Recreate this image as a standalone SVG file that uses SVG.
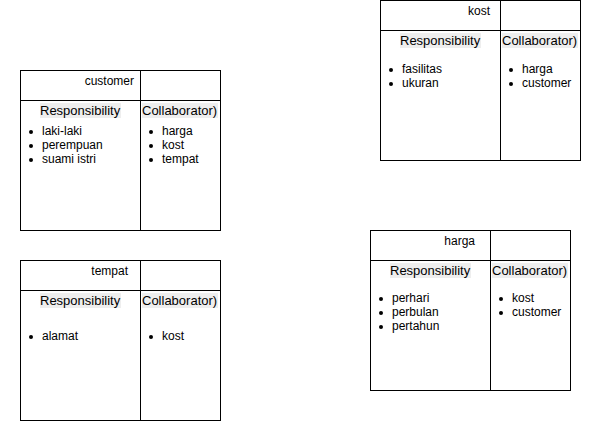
<svg xmlns="http://www.w3.org/2000/svg" width="591" height="421" viewBox="0 0 591 421">
<style>
.box{fill:#ffffff;stroke:#000000;stroke-width:1}
.ln{stroke:#000000;stroke-width:1;fill:none}
.hd{font-family:"Liberation Sans",Arial,sans-serif;font-size:12px;fill:#000;text-anchor:end}
.sec{font-family:"Liberation Sans",Arial,sans-serif;font-size:13px;fill:#000}
.it{font-family:"Liberation Sans",Arial,sans-serif;font-size:12px;fill:#000}
.hl{fill:#eeeeee}
.dot{fill:#000}
</style>
<rect width="591" height="421" fill="#ffffff"/>
<g id="connectors"></g>
<g id="customer">
<rect class="box" x="20.5" y="70.5" width="200" height="160"/>
<line class="ln" x1="20.5" y1="100.5" x2="220.5" y2="100.5"/>
<line class="ln" x1="140.5" y1="70.5" x2="140.5" y2="230.5"/>
<text class="hd" x="134" y="85">customer</text>
<rect class="hl" x="40" y="103" width="81" height="15"/>
<text class="sec" x="40" y="115">Responsibility</text>
<rect class="hl" x="142" y="103" width="76" height="15"/>
<text class="sec" x="142" y="115">Collaborator)</text>
<circle class="dot" cx="31" cy="132" r="2"/><text class="it" x="42" y="135">laki-laki</text>
<circle class="dot" cx="31" cy="146" r="2"/><text class="it" x="42" y="149">perempuan</text>
<circle class="dot" cx="31" cy="160" r="2"/><text class="it" x="42" y="163">suami istri</text>
<circle class="dot" cx="151" cy="132" r="2"/><text class="it" x="162" y="135">harga</text>
<circle class="dot" cx="151" cy="146" r="2"/><text class="it" x="162" y="149">kost</text>
<circle class="dot" cx="151" cy="160" r="2"/><text class="it" x="162" y="163">tempat</text>
</g>
<g id="kost">
<rect class="box" x="380.5" y="0.5" width="200" height="160"/>
<line class="ln" x1="380.5" y1="30.5" x2="580.5" y2="30.5"/>
<line class="ln" x1="500.5" y1="0.5" x2="500.5" y2="160.5"/>
<text class="hd" x="490" y="15">kost</text>
<rect class="hl" x="400" y="33" width="81" height="15"/>
<text class="sec" x="400" y="45">Responsibility</text>
<rect class="hl" x="502" y="33" width="76" height="15"/>
<text class="sec" x="502" y="45">Collaborator)</text>
<circle class="dot" cx="391" cy="70" r="2"/><text class="it" x="402" y="73">fasilitas</text>
<circle class="dot" cx="391" cy="84" r="2"/><text class="it" x="402" y="87">ukuran</text>
<circle class="dot" cx="511" cy="70" r="2"/><text class="it" x="522" y="73">harga</text>
<circle class="dot" cx="511" cy="84" r="2"/><text class="it" x="522" y="87">customer</text>
</g>
<g id="tempat">
<rect class="box" x="20.5" y="260.5" width="200" height="160"/>
<line class="ln" x1="20.5" y1="290.5" x2="220.5" y2="290.5"/>
<line class="ln" x1="140.5" y1="260.5" x2="140.5" y2="420.5"/>
<text class="hd" x="128" y="275">tempat</text>
<rect class="hl" x="40" y="293" width="81" height="15"/>
<text class="sec" x="40" y="305">Responsibility</text>
<rect class="hl" x="142" y="293" width="76" height="15"/>
<text class="sec" x="142" y="305">Collaborator)</text>
<circle class="dot" cx="31" cy="337" r="2"/><text class="it" x="42" y="340">alamat</text>
<circle class="dot" cx="151" cy="337" r="2"/><text class="it" x="162" y="340">kost</text>
</g>
<g id="harga">
<rect class="box" x="370.5" y="230.5" width="200" height="160"/>
<line class="ln" x1="370.5" y1="260.5" x2="570.5" y2="260.5"/>
<line class="ln" x1="490.5" y1="230.5" x2="490.5" y2="390.5"/>
<text class="hd" x="475" y="245">harga</text>
<rect class="hl" x="390" y="263" width="81" height="15"/>
<text class="sec" x="390" y="275">Responsibility</text>
<rect class="hl" x="492" y="263" width="76" height="15"/>
<text class="sec" x="492" y="275">Collaborator)</text>
<circle class="dot" cx="381" cy="299" r="2"/><text class="it" x="392" y="302">perhari</text>
<circle class="dot" cx="381" cy="313" r="2"/><text class="it" x="392" y="316">perbulan</text>
<circle class="dot" cx="381" cy="327" r="2"/><text class="it" x="392" y="330">pertahun</text>
<circle class="dot" cx="501" cy="299" r="2"/><text class="it" x="512" y="302">kost</text>
<circle class="dot" cx="501" cy="313" r="2"/><text class="it" x="512" y="316">customer</text>
</g>
</svg>
